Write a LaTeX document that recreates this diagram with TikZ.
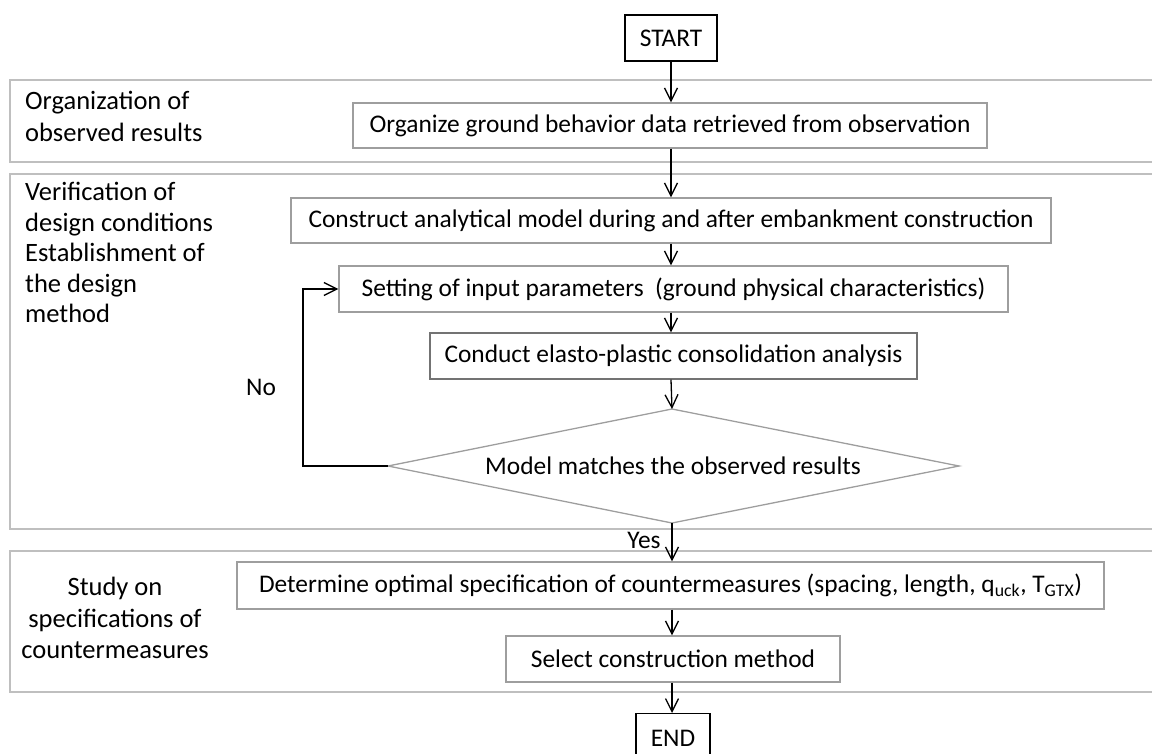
\documentclass[tikz,border=0pt]{standalone}
\usepackage{fontspec}
\setmainfont{Carlito}
\usetikzlibrary{arrows.meta}
\begin{document}
\begin{tikzpicture}[x=1pt,y=-1pt,
  every node/.style={font=\fontsize{25.4}{31}\selectfont},
  panel/.style={draw=black!25,line width=2pt},
  gbox/.style={draw=black!38,line width=1.3pt,inner sep=0pt},
  kbox/.style={draw=black,line width=1.4pt,inner sep=0pt},
  flow/.style={draw=black,line width=1.3pt,-{Straight Barb[length=13pt,width=13pt,line width=1.3pt]}},
  lbl/.style={align=left,anchor=north west,inner sep=0pt}]
\useasboundingbox (0,0) rectangle (1152,753);
\clip (0,0) rectangle (1152,753);
% panels
\draw[panel] (1170,80) -- (10,80) -- (10,162) -- (1170,162);
\draw[panel] (1170,174) -- (10,174) -- (10,529) -- (1170,529);
\draw[panel] (1170,551) -- (10,551) -- (10,692) -- (1170,692);
% panel labels
\node[lbl,font=\fontsize{26.5}{32}\selectfont] (l1) at (25,91) {Organization of\\observed results};
\node[lbl,font=\fontsize{26.5}{30.5}\selectfont] (l2) at (25,182) {Verification of\\design conditions\\Establishment of\\the design\\method};
\node[align=center,inner sep=0pt,font=\fontsize{26.5}{31.5}\selectfont] (l3) at (115,618) {Study on\\specifications of\\countermeasures};
% boxes
\node[kbox,minimum width=92pt,minimum height=46pt] (start) at (671,38) {START};
\node[gbox,minimum width=634pt,minimum height=45pt] (org) at (670,125.5) {Organize ground behavior data retrieved from observation};
\node[gbox,minimum width=760pt,minimum height=45pt] (con) at (671,220.5) {Construct analytical model during and after embankment construction};
\node[gbox,minimum width=669pt,minimum height=46pt] (set) at (673.5,289) {Setting of input parameters\ \ (ground physical characteristics)};
\node[gbox,draw=black!55,minimum width=487pt,minimum height=46pt] (cond) at (673.5,356) {Conduct elasto-plastic consolidation analysis};
% diamond
\coordinate (dt) at (672,409);
\coordinate (dl) at (388,466);
\coordinate (db) at (672,523);
\coordinate (dr) at (959,466);
\draw[draw=black!38,line width=1.3pt] (dt) -- (dr) -- (db) -- (dl) -- cycle;
\node[inner sep=0pt] (dia) at (673,466) {Model matches the observed results};
\node[gbox,minimum width=867pt,minimum height=47pt] (det) at (670.5,585.5) {Determine optimal specification of countermeasures (spacing, length, q\textsubscript{uck}, T\textsubscript{GTX})};
\node[gbox,minimum width=334pt,minimum height=46pt] (sel) at (673,659) {Select construction method};
\node[kbox,minimum width=74pt,minimum height=50pt,anchor=north] (end) at (673,713) {};
\node (endt) at (673,738) {END};
% labels
\node[inner sep=0pt] (no) at (261,387) {No};
\node[inner sep=0pt] (yes) at (644,540) {Yes};
% connectors
\draw[flow] (start.south) -- (org.north -| start.south);
\draw[flow] (org.south -| start.south) -- (con.north -| start.south);
\draw[flow] (con.south -| start.south) -- (set.north -| start.south);
\draw[flow] (set.south -| start.south) -- (cond.north -| start.south);
\draw[flow] (cond.south -| start.south) -- (dt);
\coordinate (lp) at (303,466);
\draw[flow] (dl) -- (lp) |- (set.west);
\draw[flow] (db) -- (det.north -| db);
\draw[flow] (det.south -| db) -- (sel.north -| db);
\draw[flow] (sel.south -| db) -- (end.north -| db);
\end{tikzpicture}
\end{document}
